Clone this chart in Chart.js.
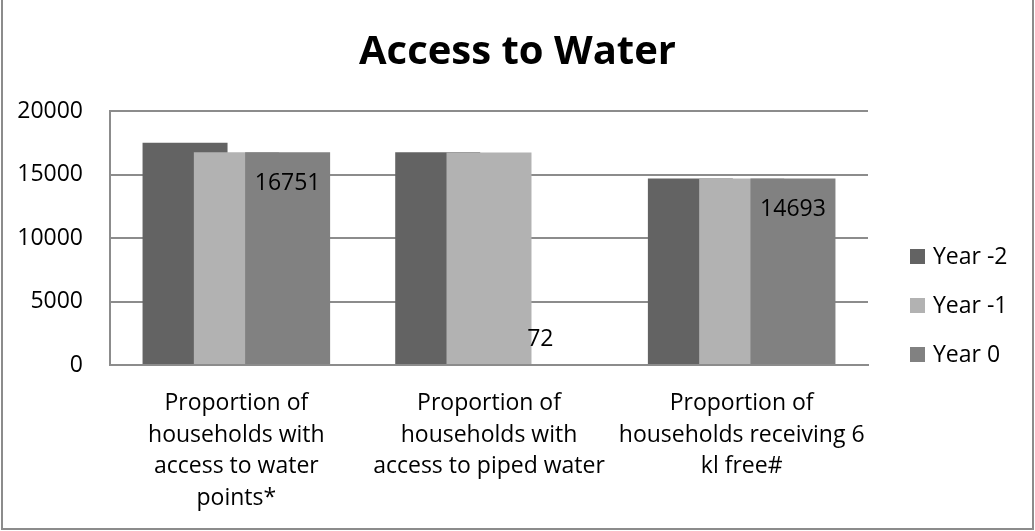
<!DOCTYPE html>
<html>
<head>
<meta charset="utf-8">
<title>Access to Water</title>
<script src="https://cdn.jsdelivr.net/npm/chart.js@4.4.1/dist/chart.umd.min.js"></script>
<style>
    body { margin: 0; background: #fff; }
    #wrap { width: 1035px; height: 531px; }
</style>
</head>
<body>
<div id="wrap"><canvas id="waterChart" width="1035" height="531"></canvas></div>
<script>
// --- data ---
const categories = [
    ['Proportion of', 'households with', 'access to water', 'points*'],
    ['Proportion of', 'households with', 'access to piped water'],
    ['Proportion of', 'households receiving 6', 'kl free#']
];
const seriesNames = ['Year -2', 'Year -1', 'Year 0'];
const yearMinus2 = [17500, 16750, 14690];
const yearMinus1 = [16750, 16740, 14680];
const year0 = [16751, 72, 14693];
const yTicks = [0, 5000, 10000, 15000, 20000];

const colors = ['#636363', '#b2b2b2', '#818181'];
const FONT = '"Open Sans", "DejaVu Sans", sans-serif';
const TEXT_SIZE = 23;

// bars overlap in Excel style, so draw them in dataset order (last one on top)
const overlapOrder = {
    id: 'overlapOrder',
    beforeDatasetsDraw(chart) {
        const { ctx, chartArea } = chart;
        ctx.save();
        ctx.beginPath();
        ctx.rect(chartArea.left, chartArea.top - 2, chartArea.right - chartArea.left, chartArea.bottom - chartArea.top + 2);
        ctx.clip();
        chart.data.datasets.forEach((ds, i) => chart.getDatasetMeta(i).controller.draw());
        ctx.restore();
        return false;
    }
};

// value labels on the last series + legend + outer frame
const extras = {
    id: 'extras',
    afterDraw(chart) {
        const { ctx } = chart;
        ctx.save();

        // labels only for Year 0
        const last = chart.data.datasets.length - 1;
        ctx.font = TEXT_SIZE + 'px ' + FONT;
        ctx.fillStyle = '#000';
        ctx.textAlign = 'center';
        ctx.textBaseline = 'middle';
        chart.getDatasetMeta(last).data.forEach((bar, i) => {
            const h = bar.base - bar.y;
            const y = h > 50 ? bar.y + 31 : bar.y - 25;
            ctx.fillText(String(chart.data.datasets[last].data[i]), bar.x, y);
        });

        // legend on the right
        ctx.textAlign = 'left';
        chart.data.datasets.forEach((ds, i) => {
            const cy = 256 + i * 49;
            ctx.fillStyle = ds.backgroundColor;
            ctx.fillRect(910, cy - 7, 15, 15);
            ctx.fillStyle = '#000';
            ctx.fillText(ds.label, 933, cy + 1);
        });

        // frame
        ctx.strokeStyle = '#8c8c8c';
        ctx.lineWidth = 2;
        ctx.strokeRect(2, -2, 1031, 531);
        ctx.restore();
    }
};

const ctx = document.getElementById('waterChart').getContext('2d');
const waterChart = new Chart(ctx, {
    type: 'bar',
    data: {
        labels: categories,
        datasets: [yearMinus2, yearMinus1, year0].map((values, i) => ({
            label: seriesNames[i],
            data: values,
            backgroundColor: colors[i],
            borderWidth: 0,
            categoryPercentage: 0.609,
            barPercentage: 1.657
        }))
    },
    options: {
        responsive: false,
        animation: false,
        layout: { padding: 0 },
        plugins: {
            legend: { display: false },
            tooltip: { enabled: false },
            title: {
                display: true,
                text: 'Access to Water',
                color: '#000',
                font: { family: FONT, size: 40, weight: 'bold', lineHeight: 1.2 },
                padding: { top: 29, bottom: 34 }
            }
        },
        scales: {
            x: {
                grid: { display: false },
                border: { display: true, color: '#8c8c8c', width: 2 },
                ticks: {
                    color: '#000',
                    padding: 14,
                    maxRotation: 0,
                    autoSkip: false,
                    font: { family: FONT, size: TEXT_SIZE, lineHeight: 1.39 }
                },
                afterFit(scale) { scale.height = 166; }
            },
            y: {
                min: 0,
                max: 20000,
                grid: { color: '#8c8c8c', lineWidth: 2, drawTicks: false },
                border: { display: true, color: '#8c8c8c', width: 2 },
                afterBuildTicks(scale) { scale.ticks = yTicks.map(v => ({ value: v })); },
                ticks: {
                    color: '#000',
                    padding: 27,
                    font: { family: FONT, size: TEXT_SIZE },
                    callback: (v) => String(v)
                },
                afterFit(scale) { scale.width = 110; }
            },
            // empty strip on the right that holds the legend
            legendSpace: {
                type: 'linear',
                position: 'right',
                grid: { display: false },
                border: { display: false },
                ticks: { display: false },
                afterFit(scale) { scale.width = 167; }
            }
        }
    },
    plugins: [overlapOrder, extras]
});
</script>
</body>
</html>
